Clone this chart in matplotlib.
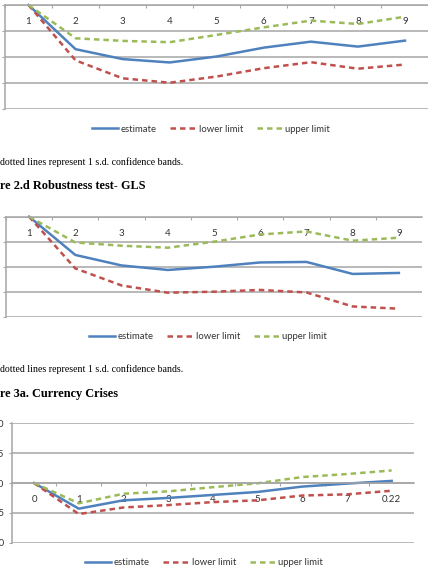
import matplotlib.pyplot as plt
from matplotlib.ticker import FixedLocator, NullFormatter

# --- data ---
cats_a = ['1', '2', '3', '4', '5', '6', '7', '8', '9']
est_a = [0, -1.70, -2.08, -2.21, -1.98, -1.64, -1.41, -1.60, -1.37]
low_a = [0, -2.13, -2.82, -2.99, -2.75, -2.43, -2.20, -2.45, -2.29]
up_a = [0, -1.28, -1.38, -1.43, -1.15, -0.86, -0.60, -0.73, -0.45]

cats_b = ['1', '2', '3', '4', '5', '6', '7', '8', '9']
est_b = [0, -1.53, -1.95, -2.13, -2.00, -1.83, -1.81, -2.29, -2.25]
low_b = [0, -2.07, -2.75, -3.04, -3.00, -2.93, -3.03, -3.59, -3.68]
up_b = [0, -1.03, -1.16, -1.24, -1.00, -0.71, -0.59, -0.96, -0.84]

cats_c = ['0', '1', '2', '3', '4', '5', '6', '7', '0.22']
est_c = [0, -0.43, -0.29, -0.25, -0.20, -0.15, -0.06, -0.01, 0.035]
low_c = [0, -0.52, -0.41, -0.37, -0.32, -0.29, -0.21, -0.19, -0.13]
up_c = [0, -0.34, -0.18, -0.14, -0.07, -0.005, 0.10, 0.15, 0.21]
yvals_c = [-1.0, -0.5, 0.0, 0.5, 1.0]

caption = 'dotted lines represent 1 s.d. confidence bands.'
title_b = 're 2.d Robustness test- GLS'
title_c = 're 3a. Currency Crises'

BLUE, RED, GREEN = '#4F81BD', '#C0504D', '#9BBB59'
GRID = '#A6A6A6'
W, H = 428, 582

fig = plt.figure(figsize=(W / 100, H / 100), dpi=100)


def px_axes(left, top, right, bottom):
    return fig.add_axes([left / W, 1 - bottom / H, (right - left) / W, (bottom - top) / H])


def panel(ax, cats, est, low, up, ylim, yticks, ylabels, leg_xy):
    x = list(range(len(cats)))
    kw = dict(lw=1.8, clip_on=False)
    ax.plot(x, est, color=BLUE, label='estimate', **kw)
    ax.plot(x, low, color=RED, ls=(0, (2.2, 1.6)), label='lower limit', **kw)
    ax.plot(x, up, color=GREEN, ls=(0, (2.2, 1.6)), label='upper limit', **kw)
    ax.set_xlim(-0.5, len(cats) - 0.5)
    ax.set_ylim(*ylim)
    ax.set_yticks(yticks)
    ax.set_yticklabels(ylabels, fontsize=7, family='Lato', color='#333333')
    ax.tick_params(axis='y', length=2, color=GRID, pad=3.5)
    ax.yaxis.grid(True, color=GRID, lw=1.1)
    ax.set_axisbelow(True)
    for s in ['top', 'right']:
        ax.spines[s].set_visible(False)
    ax.spines['left'].set_color(GRID)
    ax.spines['left'].set_linewidth(1.1)
    ax.spines['bottom'].set_position(('data', 0))
    ax.spines['bottom'].set_color(GRID)
    ax.spines['bottom'].set_linewidth(1.1)
    ax.xaxis.set_major_locator(FixedLocator([k + 0.5 for k in x[:-1]] + [-0.5]))
    ax.xaxis.set_major_formatter(NullFormatter())
    ax.xaxis.set_minor_locator(FixedLocator(x))
    ax.set_xticklabels(cats, minor=True, fontsize=7, family='Lato', color='#333333')
    ax.tick_params(axis='x', which='major', length=2.5, color=GRID, direction='out')
    ax.tick_params(axis='x', which='minor', length=0, pad=8.5)
    fig.legend(*ax.get_legend_handles_labels(), loc='center', ncol=3, frameon=False,
               bbox_to_anchor=(leg_xy[0] / W, 1 - leg_xy[1] / H),
               prop={'family': 'Lato', 'size': 6.8}, handlelength=2.75,
               handletextpad=0.25, columnspacing=1.45, labelcolor='#333333')


ax1 = px_axes(5, 5, 428.5, 109)
panel(ax1, cats_a, est_a, low_a, up_a, (-4, 0), [-4, -3, -2, -1, 0], [''] * 5, (211, 129))

fig.text(0, 1 - 162 / H, caption, family='Liberation Serif', size=7.1, va='center', ha='left')
fig.text(0, 1 - 186 / H, title_b, family='Liberation Serif', size=8.8, weight='bold',
         va='center', ha='left')

ax2 = px_axes(6, 216.7, 422, 316.7)
panel(ax2, cats_b, est_b, low_b, up_b, (-4, 0), [-4, -3, -2, -1, 0], [''] * 5, (208, 336.7))

fig.text(0, 1 - 369 / H, caption, family='Liberation Serif', size=7.1, va='center', ha='left')
fig.text(0, 1 - 394 / H, title_c, family='Liberation Serif', size=8.8, weight='bold',
         va='center', ha='left')

ax3 = px_axes(11.7, 423.3, 414, 542.7)
panel(ax3, cats_c, est_c, low_c, up_c, (-1, 1), yvals_c, ['%.1f' % v for v in yvals_c],
      (204, 562.7))

fig.savefig('out.png', dpi=100, facecolor='white')
